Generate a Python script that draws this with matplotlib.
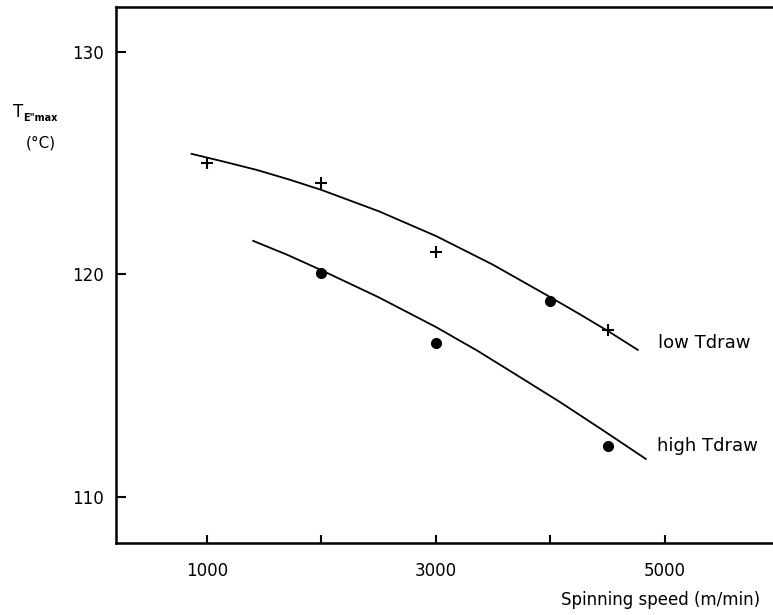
import matplotlib
matplotlib.use("Agg")
import matplotlib.pyplot as plt

# measured points
low_x = [1000, 2000, 3000, 4000, 4500]
low_y = [125.0, 124.1, 121.0, 118.8, 117.5]
low_mk = ['+', '+', '+', 'o', '+']

high_x = [2000, 3000, 4500]
high_y = [120.05, 116.9, 112.3]

# hand-drawn fit lines
low_line_x = [866, 1148, 1434, 1716, 2000, 2502, 3000, 3498, 3996, 4258, 4515, 4764]
low_line_y = [125.42, 125.07, 124.70, 124.27, 123.80, 122.84, 121.73, 120.44,
              118.99, 118.21, 117.42, 116.61]
high_line_x = [1404, 1699, 1996, 2498, 3000, 3367, 3734, 4083, 4459, 4834]
high_line_y = [121.51, 120.89, 120.20, 118.98, 117.64, 116.56, 115.39, 114.27,
               113.00, 111.71]

xticks = [1000, 2000, 3000, 4000, 5000]
xticklabels = ['1000', '', '3000', '', '5000']
yticks = [110, 120, 130]

fig = plt.figure(figsize=(7.73, 6.15), dpi=100)
ax = fig.add_axes([0.150, 0.117, 0.850, 0.8716])

ax.plot(low_line_x, low_line_y, color='black', lw=1.3)
ax.plot(high_line_x, high_line_y, color='black', lw=1.3)
for x, y, m in zip(low_x, low_y, low_mk):
    if m == 'o':
        ax.plot(x, y, 'o', color='black', ms=7)
    else:
        ax.plot(x, y, '+', color='black', ms=8, mew=1.5)
ax.plot(high_x, high_y, 'o', color='black', ms=7, ls='none')

ax.text(4939, 116.92, 'low Tdraw', fontsize=13, va='center', ha='left')
ax.text(4930, 112.29, 'high Tdraw', fontsize=13, va='center', ha='left')

ax.set_xlim(205, 5945)
ax.set_ylim(107.93, 132.02)
ax.set_xticks(xticks)
ax.set_xticklabels(xticklabels)
ax.set_yticks(yticks)
ax.tick_params(direction='in', length=7, width=1.5, labelsize=12)
ax.tick_params(axis='x', pad=14, length=6)
ax.tick_params(axis='y', pad=9)

ax.spines['right'].set_visible(False)
for s in ['left', 'top', 'bottom']:
    ax.spines[s].set_linewidth(1.8)

ax.set_xlabel('Spinning speed (m/min)', fontsize=12)
ax.xaxis.set_label_coords(0.98, -0.106)
ax.xaxis.label.set_ha('right')
ax.xaxis.label.set_va('center')

fig.text(13 / 773, 1 - 112 / 615, 'T', fontsize=12, va='center', ha='left')
fig.text(23 / 773, 1 - 118 / 615, 'E"max', fontsize=7, fontweight='bold', va='center', ha='left')
fig.text(41 / 773, 1 - 143 / 615, '(°C)', fontsize=11, va='center', ha='center')

fig.savefig('out.png', dpi=100)
